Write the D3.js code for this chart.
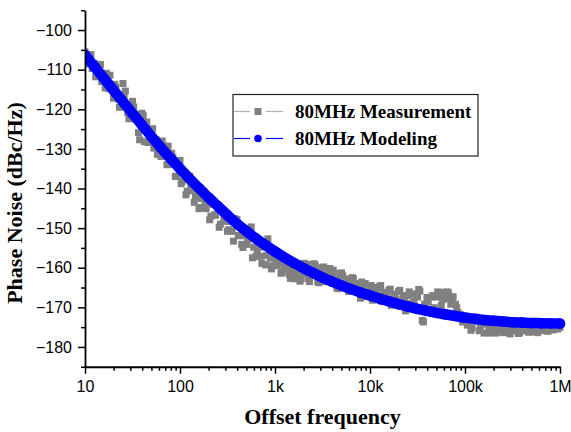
<!DOCTYPE html>
<html><head><meta charset="utf-8">
<script src="https://cdn.jsdelivr.net/npm/d3@7"></script>
<style>html,body{margin:0;padding:0;background:#fff}svg{display:block}</style>
</head><body>
<script>
// ---- data ----
const xTickValues = [10, 100, 1000, 10000, 100000, 1000000];
const xTickLabels = ["10", "100", "1k", "10k", "100k", "1M"];
const yTickValues = [-180, -170, -160, -150, -140, -130, -120, -110, -100];
const yMinorValues = [-185, -175, -165, -155, -145, -135, -125, -115, -105, -95];
const seriesNames = ["80MHz Measurement", "80MHz Modeling"];

// measurement sweep, pass A
const measFreq = [
10,10.59,11.22,11.89,12.59,13.34,14.13,14.96,15.85,16.79,17.78,18.84,19.95,21.13,22.39,23.71,25.12,26.61,28.18,29.85,31.62,33.50,35.48,37.58,39.81,42.17,44.67,47.32,50.12,53.09,56.23,59.57,63.10,66.83,70.79,74.99,79.43,84.14,89.13,94.41,
100,105.9,112.2,118.9,125.9,133.4,141.3,149.6,158.5,167.9,177.8,188.4,199.5,211.3,223.9,237.1,251.2,266.1,281.8,298.5,316.2,335.0,354.8,375.8,398.1,421.7,446.7,473.2,501.2,530.9,562.3,595.7,631.0,668.3,707.9,749.9,794.3,841.4,891.3,944.1,
1000,1059,1122,1189,1259,1334,1413,1496,1585,1679,1778,1884,1995,2113,2239,2371,2512,2661,2818,2985,3162,3350,3548,3758,3981,4217,4467,4732,5012,5309,5623,5957,6310,6683,7079,7499,7943,8414,8913,9441,
10000,10590,11220,11890,12590,13340,14130,14960,15850,16790,17780,18840,19950,21130,22390,23710,25120,26610,28180,29850,31620,33500,35480,37580,39810,42170,44670,47320,50120,53090,56230,59570,63100,66830,70790,74990,79430,84140,89130,94410,
100000,105900,112200,118900,125900,133400,141300,149600,158500,167900,177800,188400,199500,211300,223900,237100,251200,266100,281800,298500,316200,335000,354800,375800,398100,421700,446700,473200,501200,530900,562300,595700,631000,668300,707900,749900,794300,841400,891300,944100,
1000000];
const measDb = [
-105.5,-107.6,-106.5,-109.7,-108.4,-110.4,-109.1,-113.0,-111.5,-110.9,-114.8,-114.0,-117.2,-114.4,-117.4,-116.3,-113.5,-115.4,-120.9,-119.5,-118.0,-122.4,-121.3,-127.7,-121.0,-128.2,-123.2,-127.2,-125.1,-129.8,-127.7,-130.6,-131.9,-129.2,-131.8,-129.3,-133.9,-132.1,-136.9,-133.9,
-132.9,-138.2,-137.1,-140.7,-136.9,-140.5,-143.5,-140.5,-145.1,-142.5,-140.7,-145.1,-143.8,-147.0,-144.0,-146.7,-145.8,-149.0,-145.3,-148.3,-150.8,-148.3,-150.8,-147.6,-147.8,-151.9,-154.1,-151.9,-154.1,-152.0,-149.7,-154.8,-157.2,-154.4,-157.1,-154.8,-159.3,-152.7,-157.6,-159.5,
-157.1,-159.5,-158.5,-161.2,-159.8,-158.4,-161.7,-160.0,-162.8,-161.3,-158.9,-162.8,-161.4,-159.4,-162.7,-159.2,-161.8,-159.5,-163.5,-161.0,-160.0,-163.5,-161.4,-160.2,-163.1,-161.4,-165.0,-162.8,-161.3,-164.1,-162.8,-166.0,-163.7,-162.8,-165.5,-164.0,-167.7,-164.9,-164.0,-166.6,
-165.2,-168.2,-165.0,-166.4,-164.8,-168.5,-166.2,-167.5,-165.7,-169.5,-166.7,-168.0,-166.0,-169.2,-167.0,-170.9,-167.0,-169.0,-166.6,-169.9,-167.4,-165.9,-173.3,-169.2,-167.5,-170.5,-167.4,-170.1,-167.4,-166.5,-169.6,-166.2,-167.8,-166.3,-169.2,-167.3,-169.2,-171.3,-171.8,-173.7,
-172.2,-174.5,-172.6,-175.2,-173.5,-172.5,-175.9,-174.1,-176.5,-173.5,-175.3,-173.0,-174.9,-176.5,-174.3,-176.0,-174.1,-176.4,-174.9,-176.7,-174.2,-176.0,-174.8,-176.4,-174.5,-175.9,-175.3,-176.3,-174.8,-176.2,-175.2,-176.0,-174.6,-175.8,-175.0,-176.0,-174.9,-175.7,-175.1,-175.5,
-175.1];

// measurement sweep, pass B (interleaved points)
const measFreqB = [
10.29,11.55,12.96,14.54,16.32,18.31,20.54,23.05,25.86,29.01,32.55,36.52,40.97,45.97,51.58,57.88,64.94,72.86,81.75,91.73,
102.9,115.5,129.6,145.4,163.2,183.1,205.4,230.5,258.6,290.1,325.5,365.2,409.7,459.7,515.8,578.8,649.4,728.6,817.5,917.3,
1029,1155,1296,1454,1632,1831,2054,2305,2586,2901,3255,3652,4097,4597,5158,5788,6494,7286,8175,9173,
10290,11550,12960,14540,16320,18310,20540,23050,25860,29010,32550,36520,40970,45970,51580,57880,64940,72860,81750,91730,
102900,115500,129600,145400,163200,183100,205400,230500,258600,290100,325500,365200,409700,459700,515800,578800,649400,728600,817500,917300];
const measDbB = [
-108.5,-106.2,-111.8,-108.7,-114.6,-111.4,-113.7,-119.5,-116.3,-122.4,-119.4,-125.9,-121.6,-128.4,-124.9,-131.4,-128.0,-134.0,-131.1,-137.0,
-138.8,-141.6,-139.3,-142.2,-144.8,-143.6,-147.9,-146.7,-149.8,-147.7,-150.4,-153.3,-151.9,-154.9,-153.0,-157.5,-155.8,-158.9,-156.9,-160.3,
-158.7,-161.4,-160.4,-162.7,-161.6,-163.4,-158.9,-163.5,-159.0,-163.8,-159.8,-161.9,-160.6,-165.3,-162.0,-164.1,-162.5,-164.7,-163.6,-167.3,
-164.5,-166.9,-164.5,-166.8,-165.4,-167.1,-165.7,-168.0,-166.1,-168.4,-165.5,-173.7,-168.6,-167.0,-166.1,-168.1,-166.1,-167.7,-170.1,-172.9,
-173.6,-175.8,-172.7,-175.3,-174.2,-176.5,-173.8,-176.3,-175.2,-176.3,-175.0,-176.6,-174.9,-176.1,-175.6,-176.4,-175.2,-176.0,-175.5,-175.3];

const modelFreq = [10,12.59,15.85,19.95,25.12,31.62,39.81,50.12,63.10,79.43,
100,125.9,158.5,199.5,251.2,316.2,398.1,501.2,631.0,794.3,
1000,1259,1585,1995,2512,3162,3981,5012,6310,7943,
10000,12590,15850,19950,25120,31620,39810,50120,63100,79430,
100000,125900,158500,199500,251200,316200,398100,501200,631000,794300,1000000];
const modelDb = [-106.3,-109.25,-112.2,-115.15,-118.1,-121.05,-124.0,-126.9,-129.7,-132.4,
-135.0,-137.5,-139.9,-142.25,-144.5,-146.75,-148.9,-150.8,-152.6,-154.3,
-155.9,-157.4,-158.8,-160.1,-161.3,-162.45,-163.5,-164.5,-165.4,-166.25,
-167.0,-167.8,-168.5,-169.2,-169.8,-170.4,-170.9,-171.4,-171.8,-172.2,
-172.6,-172.9,-173.2,-173.4,-173.6,-173.75,-173.85,-173.95,-174.0,-174.05,-174.1];

// ---- layout ----
const W = 571, H = 432;
const svg = d3.select("body").append("svg").attr("width", W).attr("height", H);

const x = d3.scaleLog().domain([10, 1e6]).range([85, 560]);
const y = d3.scaleLinear().domain([-185, -95]).range([366.75, 10.25]);

svg.append("defs").append("clipPath").attr("id", "clip")
  .append("rect").attr("x", 85).attr("y", 0).attr("width", 486).attr("height", 367);

const plot = svg.append("g").attr("clip-path", "url(#clip)");

const meas = measFreq.map((f, i) => [f, measDb[i]])
  .concat(measFreqB.map((f, i) => [f, measDbB[i]]));
const model = modelFreq.map((f, i) => [f, modelDb[i]]);

const sq = 7;
plot.append("g").selectAll("rect").data(meas).join("rect")
  .attr("x", d => x(d[0]) - sq / 2).attr("y", d => y(d[1]) - sq / 2)
  .attr("width", sq).attr("height", sq).attr("fill", "#808080");

const line = d3.line().x(d => x(d[0])).y(d => y(d[1])).curve(d3.curveMonotoneX);
plot.append("path").datum(model).attr("d", line)
  .attr("fill", "none").attr("stroke", "#0000ff").attr("stroke-width", 10.5)
  .attr("stroke-linecap", "round").attr("stroke-linejoin", "round");
plot.append("g").selectAll("circle").data(model).join("circle")
  .attr("cx", d => x(d[0])).attr("cy", d => y(d[1])).attr("r", 5.25).attr("fill", "#0000ff");

// ---- axes ----
const tickFont = "'Liberation Sans', Arial, sans-serif";
const fmtY = d => "\u2212" + Math.abs(d);

svg.append("g").attr("transform", "translate(85,0)")
  .call(d3.axisLeft(y).tickValues(yTickValues).tickSize(7).tickSizeOuter(0).tickPadding(6).tickFormat(fmtY));
const yMinor = svg.append("g").attr("transform", "translate(85,0)")
  .call(d3.axisLeft(y).tickValues(yMinorValues).tickSize(4).tickSizeOuter(0).tickFormat(""));
yMinor.select(".domain").remove();

const xMinorVals = [];
[10, 100, 1000, 10000, 100000].forEach(dec => [2,3,4,5,6,7,8,9].forEach(m => xMinorVals.push(dec * m)));
svg.append("g").attr("transform", "translate(0,366.75)")
  .call(d3.axisBottom(x).tickValues(xTickValues).tickSize(7).tickSizeOuter(0).tickPadding(7)
    .tickFormat((d, i) => xTickLabels[i]));
const xMinor = svg.append("g").attr("transform", "translate(0,366.75)")
  .call(d3.axisBottom(x).tickValues(xMinorVals).tickSize(4).tickSizeOuter(0).tickFormat(""));
xMinor.select(".domain").remove();

svg.selectAll(".domain").attr("stroke", "#000").attr("stroke-width", 1.8);
svg.selectAll(".tick line").attr("stroke", "#000").attr("stroke-width", 1.5);
svg.selectAll(".tick text").attr("font-family", tickFont).attr("font-size", 16).attr("fill", "#000");

// ---- titles ----
const serif = "'Liberation Serif', 'Times New Roman', serif";
svg.append("text").attr("x", 322.5).attr("y", 424).attr("text-anchor", "middle")
  .attr("font-family", serif).attr("font-weight", "bold").attr("font-size", 22)
  .text("Offset frequency");
svg.append("text").attr("transform", "translate(22,203) rotate(-90)").attr("text-anchor", "middle")
  .attr("font-family", serif).attr("font-weight", "bold").attr("font-size", 22)
  .text("Phase Noise (dBc/Hz)");

// ---- legend ----
const lg = svg.append("g");
lg.append("rect").attr("x", 233).attr("y", 94.5).attr("width", 245).attr("height", 61.5)
  .attr("fill", "#fff").attr("stroke", "#222").attr("stroke-width", 1.2);
const rows = [
  {name: seriesNames[0], cy: 111.5, line: "#b0b0b0", color: "#808080", shape: "square"},
  {name: seriesNames[1], cy: 138.5, line: "#0000ff", color: "#0000ff", shape: "circle"}
];
rows.forEach(r => {
  [[234, 250], [266, 283]].forEach(s =>
    lg.append("line").attr("x1", s[0]).attr("x2", s[1]).attr("y1", r.cy).attr("y2", r.cy)
      .attr("stroke", r.line).attr("stroke-width", 1.2));
  if (r.shape === "square") {
    lg.append("rect").attr("x", 258 - 3.5).attr("y", r.cy - 3.5).attr("width", 7).attr("height", 7).attr("fill", r.color);
  } else {
    lg.append("circle").attr("cx", 258).attr("cy", r.cy).attr("r", 3.8).attr("fill", r.color);
  }
  lg.append("text").attr("x", 295).attr("y", r.cy + 6.8)
    .attr("font-family", serif).attr("font-weight", "bold").attr("font-size", 19)
    .text(r.name);
});
</script>
</body></html>
